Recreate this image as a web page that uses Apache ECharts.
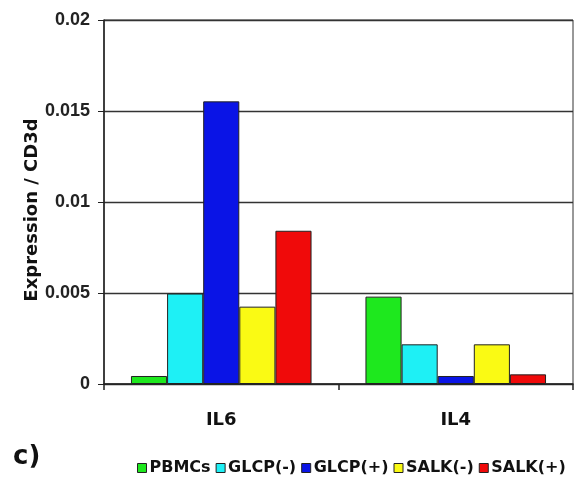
<!DOCTYPE html>
<html>
<head>
<meta charset="utf-8">
<script src="https://cdn.jsdelivr.net/npm/echarts@6/dist/echarts.min.js"></script>
<style>html,body{margin:0;padding:0;background:#fff;}#c{width:576px;height:479px;}</style>
</head>
<body>
<div id="c"></div>
<script>
const categories = ['IL6', 'IL4'];
const seriesNames = ['PBMCs', 'GLCP(-)', 'GLCP(+)', 'SALK(-)', 'SALK(+)'];
const colors = ['#1ee81e', '#1ef0f5', '#0a14e6', '#fafa14', '#f00a0a'];
const pbmcs = [0.00044, 0.0048];
const glcpNeg = [0.00497, 0.00218];
const glcpPos = [0.01553, 0.00044];
const salkNeg = [0.00425, 0.00218];
const salkPos = [0.00842, 0.00053];
const yTicks = [0, 0.005, 0.01, 0.015, 0.02];
const values = [pbmcs, glcpNeg, glcpPos, salkNeg, salkPos];

const ARIAL = '"Liberation Sans", Arial, sans-serif';
const WIDE = '"DejaVu Sans", "Liberation Sans", sans-serif';
const chart = echarts.init(document.getElementById('c'), null, {renderer: 'canvas'});
chart.setOption({
  animation: false,
  backgroundColor: '#fff',
  grid: {left: 104, right: 3, top: 20, bottom: 95, show: true, borderColor: '#333', borderWidth: 1, backgroundColor: 'transparent'},
  graphic: [{type: 'text', left: 13, top: 444, style: {text: 'c)', font: 'bold 26px ' + WIDE, fill: '#111'}}],
  legend: {
    left: 132, top: 455, itemWidth: 9, itemHeight: 9, itemGap: 5, icon: 'rect',
    textStyle: {fontFamily: WIDE, fontWeight: 'bold', fontSize: 16, color: '#111', padding: [0, 0, 0, -2]},
    data: seriesNames.map((n, i) => ({name: n, itemStyle: {color: colors[i], borderColor: '#222', borderWidth: 1}}))
  },
  xAxis: {
    type: 'category', data: categories,
    axisLine: {lineStyle: {color: '#222', width: 1.5}},
    axisTick: {show: true, length: 6, alignWithLabel: false, lineStyle: {color: '#222', width: 1.5}},
    axisLabel: {fontFamily: WIDE, fontWeight: 'bold', fontSize: 18, color: '#111', margin: 27}
  },
  yAxis: {
    type: 'value', min: yTicks[0], max: yTicks[yTicks.length - 1], interval: 0.005,
    name: 'Expression / CD3d', nameLocation: 'middle', nameGap: 63, nameMoveOverlap: false,
    nameTextStyle: {fontFamily: WIDE, fontWeight: 'bold', fontSize: 18, color: '#111', padding: [0, 16, 0, 0]},
    axisLine: {show: true, lineStyle: {color: '#222', width: 1.5}},
    axisTick: {show: true, length: 6, lineStyle: {color: '#222'}},
    axisLabel: {fontFamily: ARIAL, fontWeight: 'bold', fontSize: 18, color: '#222', margin: 14,
      formatter: v => { const t = yTicks.find(x => Math.abs(x - v) < 1e-9); return String(t); }},
    splitLine: {show: true, lineStyle: {color: '#333', width: 1.3}}
  },
  series: seriesNames.map((n, i) => ({
    name: n, type: 'bar', data: values[i], barGap: '0%', barCategoryGap: '23%',
    itemStyle: {color: colors[i], borderColor: '#222', borderWidth: 1}
  }))
});
</script>
</body>
</html>
